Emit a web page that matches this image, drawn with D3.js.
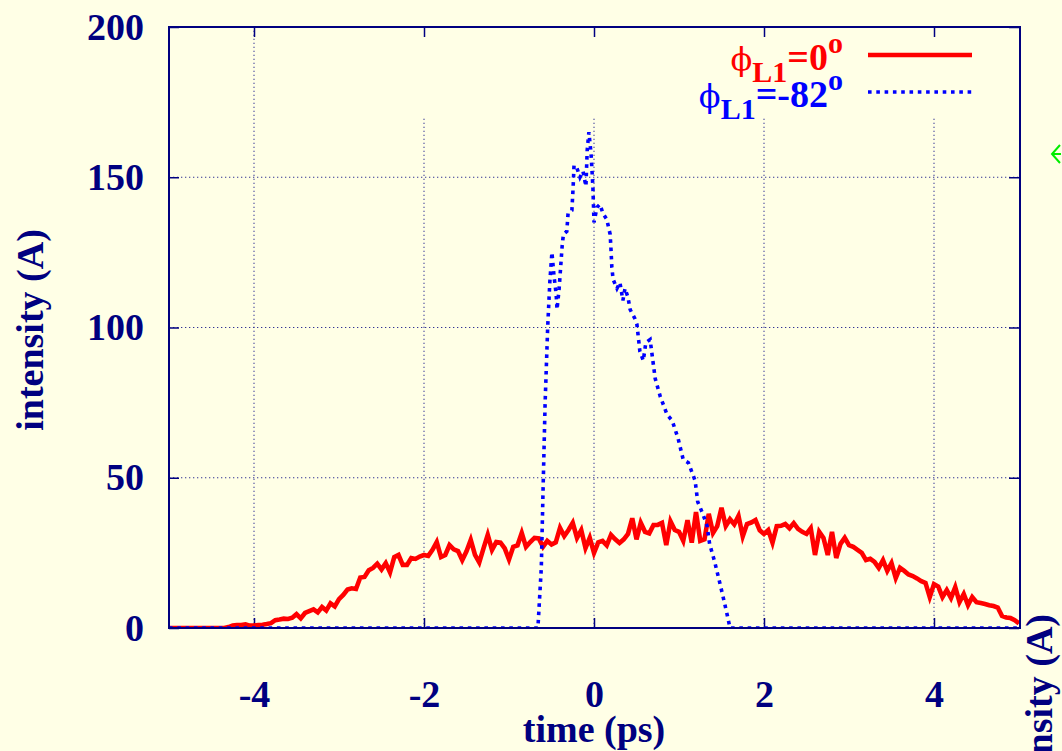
<!DOCTYPE html>
<html>
<head>
<meta charset="utf-8">
<script src="https://cdn.jsdelivr.net/npm/d3@7"></script>
<style>
  html, body { margin: 0; padding: 0; background: #ffffe6; }
  svg { display: block; }
  text { font-family: "Liberation Serif", "Times New Roman", serif; }
</style>
</head>
<body>
<svg id="chart" width="1062" height="751"></svg>
<script>
// Axis ticks
const xTicks = [-4, -2, 0, 2, 4];
const yTicks = [0, 50, 100, 150, 200];
const xGrid = [-4, -2, 0, 2, 4];
const yGrid = [50, 100, 150];

// Red series (phi_L1 = 0 deg): intensity sampled every 0.05 ps from -5 ps to 5 ps
const redStart = -5;
const redStep = 0.05;
const redIntensity = [
  0, 0, 0, 0, 0, 0, 0, 0, 0, 0,
  0, 0, 0, 0, 0.3, 0.8, 1.0, 1.0, 1.2, 0.8,
  0.8, 1.0, 1.1, 1.3, 1.6, 2.6, 2.8, 3.1, 3.0, 3.4,
  4.6, 3.2, 5.0, 5.6, 6.2, 5.2, 7.0, 5.8, 8.2, 7.2,
  9.6, 11.0, 12.8, 13.2, 13.0, 16.8, 17.0, 19.2, 20.0, 21.4,
  19.5, 21.6, 18.5, 23.6, 24.3, 21.0, 21.0, 23.3, 23.0, 23.8,
  24.3, 24.0, 26.0, 28.6, 23.6, 24.3, 27.6, 26.2, 25.6, 22.6,
  25.5, 29.3, 24.3, 21.8, 26.5, 31.0, 26.0, 28.6, 28.4, 26.5,
  22.8, 27.0, 27.5, 31.6, 27.0, 28.6, 30.0, 29.8, 27.0, 29.0,
  27.8, 28.5, 33.3, 30.6, 32.6, 35.0, 30.0, 32.6, 26.6, 30.0,
  25.0, 28.5, 29.0, 27.5, 31.0, 29.5, 28.3, 29.5, 31.3, 36.5,
  29.5, 35.0, 32.0, 31.5, 34.3, 34.3, 35.0, 27.6, 35.5, 32.6,
  32.0, 29.0, 35.9, 28.4, 38.6, 29.0, 29.5, 38.0, 31.6, 33.9,
  40.0, 33.9, 36.2, 34.5, 37.3, 30.5, 34.6, 35.1, 35.9, 32.5,
  31.3, 32.6, 28.4, 33.9, 34.0, 34.6, 33.2, 34.9, 33.0, 32.0,
  31.3, 33.2, 24.3, 32.0, 30.0, 24.3, 32.0, 23.3, 28.0, 30.0,
  27.6, 27.0, 26.0, 25.0, 22.6, 23.0, 22.0, 20.0, 22.6, 19.0,
  21.6, 16.6, 20.0, 19.0, 17.8, 17.3, 16.5, 15.6, 15.0, 10.3,
  14.6, 13.8, 10.3, 12.6, 10.0, 13.6, 8.6, 11.3, 7.6, 10.3,
  8.6, 8.3, 8.0, 7.6, 7.3, 6.8, 4.0, 3.5, 3.3, 2.6,
  1.5
];

// Blue series (phi_L1 = -82 deg)
const blueTime = [
  -5, -0.66, -0.62, -0.60, -0.575, -0.545, -0.52, -0.495, -0.47, -0.445,
  -0.435, -0.41, -0.375, -0.36, -0.32, -0.305, -0.26, -0.245, -0.235, -0.20,
  -0.165, -0.13, -0.095, -0.08, -0.06, -0.035, -0.025, -0.012, 0.0, 0.035,
  0.07, 0.105, 0.15, 0.19, 0.20, 0.21, 0.225, 0.27, 0.305, 0.34,
  0.365, 0.40, 0.425, 0.48, 0.505, 0.54, 0.58, 0.61, 0.66, 0.72,
  0.78, 0.86, 0.92, 0.99, 1.05, 1.11, 1.19, 1.22, 1.28, 1.33,
  1.36, 1.42, 1.48, 1.53, 1.57, 1.60, 5
];
const blueIntensity = [
  0, 0, 20, 45, 75, 100, 115, 125, 117, 111,
  106, 113, 127, 131, 132, 138, 139, 147, 154, 153,
  150, 152, 147, 159, 165, 158, 153, 146, 135, 140,
  141, 138, 136, 131, 126, 120, 116, 113, 115, 109,
  113, 110, 106, 103, 101, 92, 89, 95, 96, 83,
  77, 71, 69, 63, 56, 55, 49, 42, 38, 34,
  28, 22, 15, 9, 4, 0, 0
];

// Legend entries
const legendItems = [
  { sym: "\u03D5", sub: "L1", main: "=0", sup: "o", color: "#ff0000", dashed: false },
  { sym: "\u03D5", sub: "L1", main: "=-82", sup: "o", color: "#0000ff", dashed: true }
];

const navy = "#000080";
const bg = "#ffffe6";
const svg = d3.select("#chart");

svg.append("rect").attr("width", 1062).attr("height", 751).attr("fill", bg);

const x = d3.scaleLinear().domain([-5, 5]).range([169, 1019]);
const y = d3.scaleLinear().domain([0, 200]).range([628, 27]);

// Grid
const grid = svg.append("g").attr("stroke", navy).attr("stroke-width", 1)
  .attr("stroke-dasharray", "1.3 2.7").attr("opacity", 0.8);
grid.selectAll("line.v").data(xGrid).join("line").attr("class", "v")
  .attr("x1", d => x(d)).attr("x2", d => x(d))
  .attr("y1", y(0)).attr("y2", y(200));
grid.selectAll("line.h").data(yGrid).join("line").attr("class", "h")
  .attr("x1", x(-5)).attr("x2", x(5))
  .attr("y1", d => y(d)).attr("y2", d => y(d));

// Opaque key area hides the grid behind the legend
svg.append("rect").attr("x", 300).attr("y", 29).attr("width", 718).attr("height", 87).attr("fill", bg);

// Axes
const fontSize = 38;
const xAxis = svg.append("g").attr("transform", `translate(0,${y(0)})`)
  .call(d3.axisBottom(x).tickValues(xTicks).tickSize(-10).tickPadding(52).tickFormat(d3.format("d")));
const yAxis = svg.append("g").attr("transform", `translate(${x(-5)},0)`)
  .call(d3.axisLeft(y).tickValues(yTicks).tickSize(-10).tickPadding(25));
const xTop = svg.append("g").attr("transform", `translate(0,${y(200)})`)
  .call(d3.axisTop(x).tickValues(xTicks).tickSize(-10).tickFormat(""));
const yRight = svg.append("g").attr("transform", `translate(${x(5)},0)`)
  .call(d3.axisRight(y).tickValues(yTicks).tickSize(-10).tickFormat(""));

[xAxis, yAxis, xTop, yRight].forEach(g => {
  g.select(".domain").remove();
  g.selectAll(".tick line").attr("stroke", navy).attr("stroke-width", 1.5);
  g.selectAll(".tick text")
    .attr("fill", navy)
    .attr("font-family", "'Liberation Serif', serif")
    .attr("font-weight", "bold")
    .attr("font-size", fontSize);
});
xAxis.selectAll(".tick text").text(d => d === 0 ? "0" : (d < 0 ? "-" + Math.abs(d) : String(d)));

// Series
svg.append("clipPath").attr("id", "plotClip")
  .append("rect").attr("x", 169).attr("y", 27).attr("width", 851).attr("height", 602);

const redPoints = redIntensity.map((v, i) => [redStart + i * redStep, v]);
const bluePoints = blueTime.map((t, i) => [t, blueIntensity[i]]);
const line = d3.line().x(d => x(d[0])).y(d => y(d[1]));

const plot = svg.append("g").attr("clip-path", "url(#plotClip)");
plot.append("path").datum(redPoints).attr("d", line)
  .attr("fill", "none").attr("stroke", "#ff0000").attr("stroke-width", 4.6)
  .attr("stroke-linejoin", "miter").attr("stroke-miterlimit", 4);
plot.append("path").datum(bluePoints).attr("d", line)
  .attr("fill", "none").attr("stroke", "#0000ff").attr("stroke-width", 3.6)
  .attr("stroke-dasharray", "3.6 4.7");

// Frame
svg.append("rect").attr("x", 169).attr("y", 27).attr("width", 851).attr("height", 601)
  .attr("fill", "none").attr("stroke", navy).attr("stroke-width", 2);

// Axis titles
svg.append("text").attr("x", 594).attr("y", 742).attr("text-anchor", "middle")
  .attr("fill", navy).attr("font-weight", "bold").attr("font-size", fontSize)
  .text("time (ps)");
svg.append("text").attr("transform", "translate(43,330) rotate(-90)").attr("text-anchor", "middle")
  .attr("fill", navy).attr("font-weight", "bold").attr("font-size", fontSize)
  .text("intensity (A)");
svg.append("text").attr("transform", "translate(1052,614) rotate(-90)").attr("text-anchor", "end")
  .attr("fill", navy).attr("font-weight", "bold").attr("font-size", fontSize)
  .text("intensity (A)");

// Green arrow at the right edge
svg.append("path").attr("d", "M1061,154 L1052,154 M1060,145 L1052,154 L1060,163")
  .attr("fill", "none").attr("stroke", "#00ee00").attr("stroke-width", 2);

// Legend
const legend = svg.append("g");
legendItems.forEach((item, i) => {
  const base = 70 + i * 37;
  const t = legend.append("text").attr("x", 843).attr("y", base).attr("text-anchor", "end")
    .attr("fill", item.color).attr("font-weight", "bold");
  t.append("tspan").attr("font-family", "'DejaVu Serif', serif").attr("font-weight", "normal")
    .attr("font-size", 32).text(item.sym);
  t.append("tspan").attr("font-size", 30).attr("dy", 12).text(item.sub);
  t.append("tspan").attr("font-size", 38).attr("dy", -12).text(item.main);
  t.append("tspan").attr("font-size", 30).attr("dy", -17).text(item.sup);
  const ly = base - 15;
  legend.append("line").attr("x1", 868).attr("x2", 972).attr("y1", ly).attr("y2", ly)
    .attr("stroke", item.color).attr("stroke-width", item.dashed ? 3.5 : 4.5)
    .attr("stroke-dasharray", item.dashed ? "3.6 4.7" : null);
});
</script>
</body>
</html>
